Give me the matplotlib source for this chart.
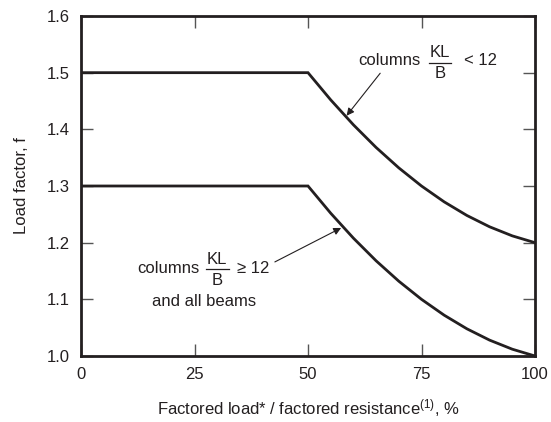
import matplotlib
matplotlib.use("Agg")
import matplotlib.pyplot as plt

plt.rcParams['font.family'] = ['Liberation Sans', 'DejaVu Sans']
plt.rcParams['mathtext.fontset'] = 'custom'
plt.rcParams['mathtext.rm'] = 'Liberation Sans'
plt.rcParams['mathtext.it'] = 'Liberation Sans:italic'

# Data
x_vals = [0, 50, 52.5, 55, 57.5, 60, 62.5, 65, 67.5, 70, 72.5, 75, 77.5, 80,
          82.5, 85, 87.5, 90, 92.5, 95, 97.5, 100]
f_columns_lt12 = [1.5, 1.5, 1.476, 1.452, 1.430, 1.408, 1.388, 1.368, 1.350, 1.332,
                  1.316, 1.300, 1.286, 1.272, 1.260, 1.248, 1.238, 1.228, 1.220,
                  1.212, 1.206, 1.2]
f_columns_ge12 = [1.3, 1.3, 1.276, 1.252, 1.230, 1.208, 1.188, 1.168, 1.150, 1.132,
                  1.116, 1.100, 1.086, 1.072, 1.060, 1.048, 1.038, 1.028, 1.020,
                  1.012, 1.006, 1.0]

x_ticks = [0, 25, 50, 75, 100]
y_ticks = [1.0, 1.1, 1.2, 1.3, 1.4, 1.5, 1.6]

ink = '#231f20'
fs = 12

fig = plt.figure(figsize=(5.51, 4.22), dpi=100)
ax = fig.add_axes([81/551, (422-356)/422, 454/551, 340/422])

ax.plot(x_vals, f_columns_lt12, color=ink, lw=2.0, solid_joinstyle='miter')
ax.plot(x_vals, f_columns_ge12, color=ink, lw=2.0, solid_joinstyle='miter')

ax.set_xlim(0, 100)
ax.set_ylim(1.0, 1.6)
ax.set_xticks(x_ticks)
ax.set_yticks(y_ticks)
ax.set_xticklabels([str(v) for v in x_ticks])
ax.set_yticklabels([f"{v:.1f}" for v in y_ticks])
ax.tick_params(direction='in', length=8.5, width=1.0, color='#555555',
               top=True, right=True, labelsize=fs, labelcolor=ink)
ax.tick_params(axis='x', pad=8)
ax.tick_params(axis='y', pad=8)
for s in ax.spines.values():
    s.set_linewidth(2.0)
    s.set_color(ink)

ax.set_xlabel(r'Factored load* / factored resistance$^{\mathrm{(1)}}$, %',
              fontsize=fs, color=ink, labelpad=11)
ax.set_ylabel('Load factor, f', fontsize=fs, color=ink, labelpad=13)

# Upper annotation
ax.text(61.0, 1.521, 'columns', fontsize=fs, color=ink, ha='left', va='center')
ax.text(79.1, 1.536, 'KL', fontsize=fs, color=ink, ha='center', va='center')
ax.text(79.1, 1.499, 'B', fontsize=fs, color=ink, ha='center', va='center')
ax.plot([76.6, 81.6], [1.517, 1.517], color=ink, lw=0.9)
ax.text(84.3, 1.521, '< 12', fontsize=fs, color=ink, ha='left', va='center')
ax.annotate('', xy=(58.5, 1.424), xytext=(65.9, 1.499),
            arrowprops=dict(arrowstyle='-|>', color=ink, lw=0.8,
                            mutation_scale=11, shrinkA=0, shrinkB=0))

# Lower annotation
ax.text(12.4, 1.155, 'columns', fontsize=fs, color=ink, ha='left', va='center')
ax.text(30.0, 1.171, 'KL', fontsize=fs, color=ink, ha='center', va='center')
ax.text(30.0, 1.134, 'B', fontsize=fs, color=ink, ha='center', va='center')
ax.plot([27.5, 32.5], [1.153, 1.153], color=ink, lw=0.9)
ax.text(34.3, 1.155, '\u2265 12', fontsize=fs, color=ink, ha='left', va='center')
ax.text(15.7, 1.096, 'and all beams', fontsize=fs, color=ink, ha='left', va='center')
ax.annotate('', xy=(57.3, 1.226), xytext=(42.7, 1.166),
            arrowprops=dict(arrowstyle='-|>', color=ink, lw=0.8,
                            mutation_scale=11, shrinkA=0, shrinkB=0))

fig.savefig('out.png', dpi=100)
